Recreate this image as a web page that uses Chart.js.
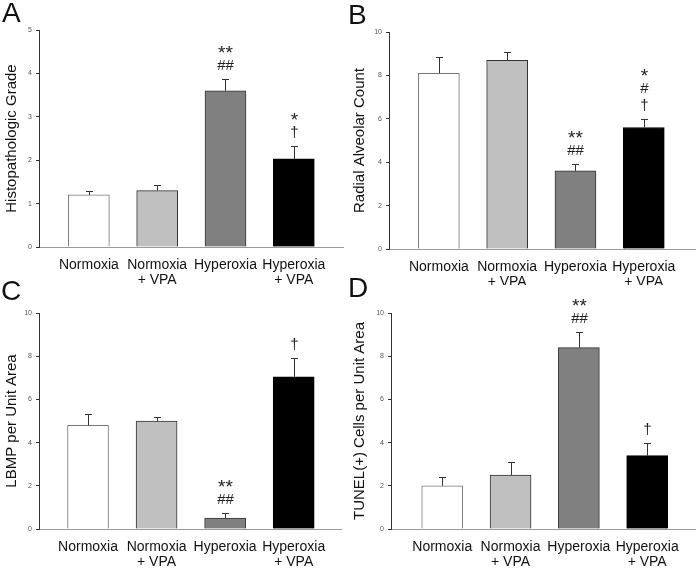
<!DOCTYPE html>
<html>
<head>
<meta charset="utf-8">
<script src="https://cdn.jsdelivr.net/npm/chart.js@4.4.1/dist/chart.umd.min.js"></script>
<style>
    body { margin: 0; background: #fff; width: 696px; height: 570px; position: relative; overflow: hidden; font-family: "Liberation Sans", Arial, sans-serif; }
    canvas { position: absolute; }
    .letra { position: absolute; font-size: 28px; line-height: 28px; color: #111; }
</style>
</head>
<body>
<canvas id="graficoA" width="348" height="285" style="left:0;top:0"></canvas>
<canvas id="graficoB" width="348" height="285" style="left:348px;top:0"></canvas>
<canvas id="graficoC" width="348" height="285" style="left:0;top:285px"></canvas>
<canvas id="graficoD" width="348" height="285" style="left:348px;top:285px"></canvas>
<div class="letra" style="left:2px;top:-1px">A</div>
<div class="letra" style="left:348px;top:1px">B</div>
<div class="letra" style="left:1px;top:277px">C</div>
<div class="letra" style="left:348px;top:274px">D</div>
<script>
const categorias = [["Normoxia"], ["Normoxia", "+ VPA"], ["Hyperoxia"], ["Hyperoxia", "+ VPA"]];

const histoGrade = [1.2, 1.3, 3.6, 2.03];
const histoGradeErr = [0.1, 0.14, 0.26, 0.29];
const histoGradeSig = [[], [], ["**", "##"], ["*", "†"]];
const ticksGrade = [0, 1, 2, 3, 4, 5];

const radialCount = [8.1, 8.7, 3.6, 5.6];
const radialCountErr = [0.77, 0.4, 0.3, 0.4];
const radialCountSig = [[], [], ["**", "##"], ["*", "#", "†"]];

const lbmp = [4.8, 5.0, 0.5, 7.05];
const lbmpErr = [0.52, 0.2, 0.25, 0.85];
const lbmpSig = [[], [], ["**", "##"], ["†"]];

const tunel = [2.0, 2.5, 8.4, 3.4];
const tunelErr = [0.4, 0.6, 0.7, 0.6];
const tunelSig = [[], [], ["**", "##"], ["†"]];

const ticksDez = [0, 2, 4, 6, 8, 10];

const corBarras = ["#ffffff", "#c0c0c0", "#808080", "#000000"];
const corBordas = ["#777777", "#333333", "#333333", "#000000"];
const fonte = "'Liberation Sans', Arial, sans-serif";

// barras de erro e marcas de significancia
const barrasErro = {
    id: "barrasErro",
    afterDatasetsDraw(chart, args, opts) {
        const ctx = chart.ctx;
        const x = chart.scales.x;
        const y = chart.scales.y;
        const pontos = chart.data.datasets[0].data;
        ctx.save();
        ctx.strokeStyle = "#333";
        ctx.lineWidth = 1;
        pontos.forEach((p, i) => {
            const cx = Math.round(x.getPixelForValue(p.x)) + 0.5;
            const y0 = y.getPixelForValue(p.y);
            const y1 = Math.round(y.getPixelForValue(p.y + opts.erros[i])) + 0.5;
            ctx.beginPath();
            ctx.moveTo(cx, y0);
            ctx.lineTo(cx, y1);
            ctx.moveTo(cx - 3.5, y1);
            ctx.lineTo(cx + 3.5, y1);
            ctx.stroke();

            const marcas = opts.marcas[i];
            ctx.fillStyle = "#222";
            ctx.textAlign = "center";
            ctx.textBaseline = "middle";
            for (let k = 0; k < marcas.length; k++) {
                const linha = marcas[marcas.length - 1 - k];
                const yc = y1 - 14 - k * 16.5;
                if (linha.startsWith("*")) {
                    // asterisco fica alto no glifo, desce um pouco
                    ctx.font = "19px " + fonte;
                    ctx.fillText(linha, cx, yc + 4.5);
                } else {
                    ctx.font = "15px " + fonte;
                    ctx.fillText(linha, cx, yc);
                }
            }
        });
        ctx.restore();
    }
};

function iniciarGrafico(id, valores, erros, marcas, ticksY, titulo, geo) {
    const W = 348, H = 285;
    return new Chart(document.getElementById(id), {
        type: "bar",
        data: {
            datasets: [{
                data: valores.map((v, i) => ({ x: i, y: v })),
                backgroundColor: corBarras,
                borderColor: corBordas,
                borderWidth: 1,
                barThickness: 41
            }]
        },
        options: {
            responsive: false,
            animation: false,
            layout: { padding: { left: 0, top: geo.top, right: W - geo.right, bottom: 0 } },
            plugins: {
                legend: { display: false },
                tooltip: { enabled: false },
                barrasErro: { erros: erros, marcas: marcas }
            },
            scales: {
                x: {
                    type: "linear",
                    offset: false,
                    min: geo.xMin,
                    max: geo.xMax,
                    afterBuildTicks: (s) => { s.ticks = categorias.map((c, i) => ({ value: i })); },
                    afterFit: (s) => { s.height = H - geo.bottom; },
                    grid: { display: false, drawTicks: false, offset: false },
                    border: { display: true, color: "#9a9a9a", width: 1 },
                    ticks: {
                        autoSkip: false,
                        maxRotation: 0,
                        padding: 11,
                        color: "#111",
                        font: { family: fonte, size: 14, lineHeight: 1.05 },
                        callback: (v) => categorias[v]
                    }
                },
                y: {
                    min: ticksY[0],
                    max: ticksY[ticksY.length - 1],
                    afterBuildTicks: (s) => { s.ticks = ticksY.map(v => ({ value: v })); },
                    afterFit: (s) => { s.width = geo.left; },
                    grid: { display: true, drawOnChartArea: false, drawTicks: true, tickLength: 3, color: "#333" },
                    border: { display: true, color: "#333", width: 1 },
                    ticks: { padding: 4, color: "#555", font: { family: fonte, size: 7 } },
                    title: {
                        display: true,
                        text: titulo,
                        color: "#111",
                        padding: { top: 3, bottom: 0 },
                        font: { family: fonte, size: 15 }
                    }
                }
            }
        },
        plugins: [barrasErro]
    });
}

iniciarGrafico("graficoA", histoGrade, histoGradeErr, histoGradeSig, ticksGrade, "Histopathologic Grade",
    { left: 39, right: 343, top: 30, bottom: 247, xMin: -0.73, xMax: 3.72 });
iniciarGrafico("graficoB", radialCount, radialCountErr, radialCountSig, ticksDez, "Radial Alveolar Count",
    { left: 41, right: 347, top: 32, bottom: 249, xMin: -0.73, xMax: 3.75 });
iniciarGrafico("graficoC", lbmp, lbmpErr, lbmpSig, ticksDez, "LBMP per Unit Area",
    { left: 39, right: 341, top: 28, bottom: 244, xMin: -0.715, xMax: 3.69 });
iniciarGrafico("graficoD", tunel, tunelErr, tunelSig, ticksDez, "TUNEL(+) Cells per Unit Area",
    { left: 43, right: 347, top: 28, bottom: 244, xMin: -0.75, xMax: 3.70 });
</script>
</body>
</html>
